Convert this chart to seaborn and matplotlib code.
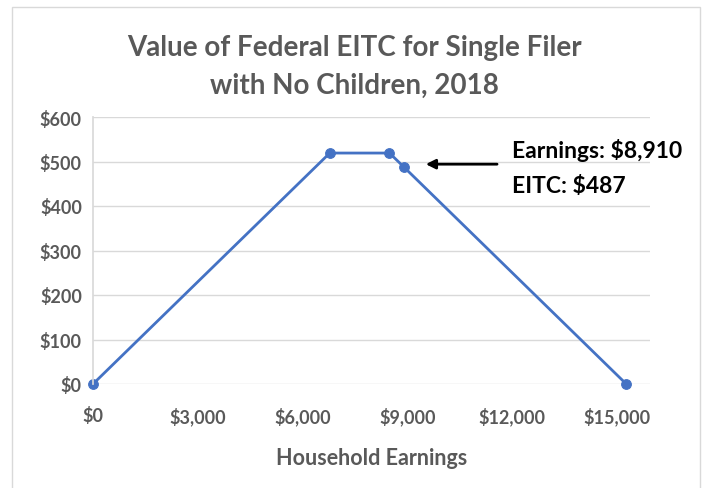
import numpy as np
import pandas as pd
import matplotlib
matplotlib.use("Agg")
import matplotlib.pyplot as plt
import seaborn as sns
from matplotlib.patches import Rectangle
from matplotlib.ticker import FuncFormatter

# EITC schedule points
earnings = [0, 6780, 8490, 8910, 15270]
eitc = [0, 519, 519, 487, 0]

x_ticks = [0, 3000, 6000, 9000, 12000, 15000]
y_ticks = [0, 100, 200, 300, 400, 500, 600]

df = pd.DataFrame({'Earnings': earnings, 'EITC': eitc})

sns.set_theme(style='white')
plt.rcParams['font.family'] = ['Lato', 'DejaVu Sans']

gray = '#595959'
blue = '#4472C4'

fig = plt.figure(figsize=(7.09, 4.89), dpi=100)
ax = fig.add_axes([93/709, 1 - 385/489, (650-93)/709, (385-118)/489])

sns.lineplot(data=df, x='Earnings', y='EITC', ax=ax, color=blue, lw=2,
             marker='o', markersize=7, markeredgecolor=blue, clip_on=False)

ax.set_xlim(0, 15950)
ax.set_ylim(0, 600)
ax.set_xticks(x_ticks)
ax.set_yticks(y_ticks)
ax.xaxis.set_major_formatter(FuncFormatter(lambda v, p: '${:,.0f}'.format(v)))
ax.yaxis.set_major_formatter(FuncFormatter(lambda v, p: '${:,.0f}'.format(v)))
ax.tick_params(axis='both', labelsize=13, colors=gray, length=0)
ax.tick_params(axis='x', pad=16)
ax.tick_params(axis='y', pad=8)
for lab in ax.get_xticklabels() + ax.get_yticklabels():
    lab.set_fontweight('bold')

ax.grid(axis='y', color='#d9d9d9', lw=1)
ax.set_axisbelow(True)
for s in ['top', 'right', 'bottom']:
    ax.spines[s].set_visible(False)
ax.spines['left'].set_color('#d9d9d9')

ax.set_xlabel('Household Earnings', fontsize=15.5, color=gray, fontweight='bold', labelpad=16)
ax.set_ylabel('')

fig.text(0.5, 1 - 48/489, 'Value of Federal EITC for Single Filer', ha='center', va='center',
         fontsize=20, color=gray, fontweight='bold')
fig.text(0.5, 1 - 86/489, 'with No Children, 2018', ha='center', va='center',
         fontsize=20, color=gray, fontweight='bold')

ax.annotate('', xy=(9450, 494), xytext=(11650, 494),
            arrowprops=dict(arrowstyle='-|>', color='black', lw=2, mutation_scale=14))
ax.text(12000, 528, 'Earnings: $8,910', fontsize=16.5, fontweight='bold', color='black', va='center')
ax.text(12000, 445, 'EITC: $487', fontsize=16.5, fontweight='bold', color='black', va='center')

fig.patches.append(Rectangle((12/709, -0.05), (700-12)/709, 1.05 - 8/489, transform=fig.transFigure,
                             fill=False, edgecolor='#d9d9d9', lw=1))

fig.savefig('out.png', dpi=100)
